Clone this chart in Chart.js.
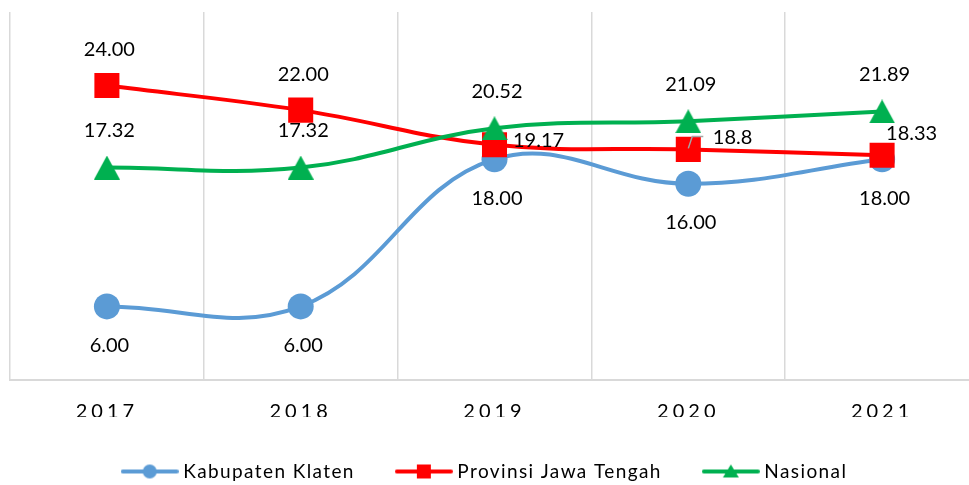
<!DOCTYPE html>
<html>
<head>
<meta charset="utf-8">
<script src="https://cdn.jsdelivr.net/npm/chart.js@4.4.1/dist/chart.umd.min.js"></script>
<style>
  html, body { margin: 0; padding: 0; background: #ffffff; overflow: hidden; }
  #wrap { width: 980px; height: 485px; position: relative; }
</style>
</head>
<body>
<div id="wrap"><canvas id="chart"></canvas></div>
<script>
// Categories and series values
const years = ['2017', '2018', '2019', '2020', '2021'];
const klaten = [6, 6, 18, 16, 18];
const jawaTengah = [24, 22, 19.17, 18.8, 18.33];
const nasional = [17.32, 17.32, 20.52, 21.09, 21.89];

// Number of decimals for each value label (null = plain number)
const klatenDecimals = [2, 2, 2, 2, 2];
const jawaTengahDecimals = [2, 2, null, null, null];
const nasionalDecimals = [2, 2, 2, 2, 2];

const BLUE = '#5B9BD5';
const RED = '#FF0000';
const GREEN = '#00B050';
const FONT = 'Lato';
const LEGEND_SPACING = '1.4px';
const TICK_SPACING = '4px';

// Triangle marker, centred on its bounding box
function triangleMarker(w, h, color) {
  const c = document.createElement('canvas');
  c.width = w; c.height = h;
  const g = c.getContext('2d');
  g.fillStyle = color;
  g.beginPath();
  g.moveTo(0, h); g.lineTo(w / 2, 0); g.lineTo(w, h); g.closePath();
  g.fill();
  return c;
}

// Legend icon: a short line with the series marker in the middle
function legendIcon(color, shape) {
  const w = 58, h = 18;
  const c = document.createElement('canvas');
  c.width = w; c.height = h;
  const g = c.getContext('2d');
  g.strokeStyle = color;
  g.fillStyle = color;
  g.lineWidth = 4;
  g.lineCap = 'round';
  g.beginPath(); g.moveTo(2, h / 2); g.lineTo(w - 2, h / 2); g.stroke();
  const cx = w / 2, cy = h / 2;
  g.beginPath();
  if (shape === 'circle') {
    g.arc(cx, cy, 7, 0, Math.PI * 2);
  } else if (shape === 'rect') {
    g.rect(cx - 7, cy - 7, 14, 14);
  } else {
    g.moveTo(cx - 8, cy + 6); g.lineTo(cx, cy - 7); g.lineTo(cx + 8, cy + 6); g.closePath();
  }
  g.fill();
  return c;
}

const legendIcons = [legendIcon(BLUE, 'circle'), legendIcon(RED, 'rect'), legendIcon(GREEN, 'triangle')];

function formatValue(v, d) {
  return d === null ? String(v) : v.toFixed(d);
}

// Label placement per point: dx/dy from the point, text alignment, optional leader line
const klatenPlace = years.map(() => ({ dx: 2.5, dy: 39, align: 'center' }));
const nasionalPlace = years.map(() => ({ dx: 2.5, dy: -37, align: 'center' }));
const jawaTengahPlace = [
  { dx: 2.5, dy: -36, align: 'center' },
  { dx: 2.5, dy: -36, align: 'center' },
  { dx: 18.5, dy: -4.5, align: 'left' },
  { dx: 24.5, dy: -12, align: 'left', leader: [[0, -1], [4, -13], [15, -13]] },
  { dx: 4, dy: -22, align: 'left' }
];

const valueLabels = {
  id: 'valueLabels',
  beforeLayout(chart) {
    // legend text is measured with the same spacing it is drawn with
    chart.ctx.letterSpacing = LEGEND_SPACING;
  },
  afterLayout(chart) {
    chart.ctx.letterSpacing = '0px';
    if (chart.legend) {
      chart.legend.left -= 8;
      chart.legend.right -= 8;
    }
  },
  beforeDraw(chart) {
    chart.ctx.letterSpacing = LEGEND_SPACING;
  },
  beforeDatasetsDraw(chart) {
    chart.ctx.letterSpacing = '0px';
  },
  afterDatasetsDraw(chart) {
    const ctx = chart.ctx;
    ctx.save();
    ctx.font = '20px ' + FONT;
    ctx.fillStyle = '#000000';
    ctx.textBaseline = 'middle';
    chart.data.datasets.forEach((ds, di) => {
      const meta = chart.getDatasetMeta(di);
      meta.data.forEach((pt, i) => {
        const p = ds.place[i];
        if (p.leader) {
          ctx.save();
          ctx.strokeStyle = '#A6A6A6';
          ctx.lineWidth = 1.5;
          ctx.beginPath();
          p.leader.forEach(([lx, ly], k) => {
            if (k === 0) ctx.moveTo(pt.x + lx, pt.y + ly); else ctx.lineTo(pt.x + lx, pt.y + ly);
          });
          ctx.stroke();
          ctx.restore();
        }
        ctx.textAlign = p.align;
        ctx.fillText(formatValue(ds.data[i], ds.decimals[i]), pt.x + p.dx, pt.y + p.dy);
      });
    });
    ctx.restore();
    // spaced-out year labels on the category axis (drawn after the datasets)
    ctx.letterSpacing = TICK_SPACING;
  },
  afterDraw(chart) {
    chart.ctx.letterSpacing = '0px';
  }
};

new Chart(document.getElementById('chart'), {
  type: 'line',
  data: {
    labels: years,
    datasets: [
      {
        label: 'Kabupaten Klaten',
        data: klaten,
        decimals: klatenDecimals,
        place: klatenPlace,
        borderColor: BLUE,
        backgroundColor: BLUE,
        borderWidth: 4,
        tension: 0.4,
        pointStyle: 'circle',
        pointRadius: 13,
        pointBorderWidth: 0,
        pointBackgroundColor: BLUE,
        order: 3
      },
      {
        label: 'Provinsi Jawa Tengah',
        data: jawaTengah,
        decimals: jawaTengahDecimals,
        place: jawaTengahPlace,
        borderColor: RED,
        backgroundColor: RED,
        borderWidth: 4,
        tension: 0.4,
        pointStyle: 'rect',
        pointRadius: 17.7,
        pointBorderWidth: 0,
        pointBackgroundColor: RED,
        order: 2
      },
      {
        label: 'Nasional',
        data: nasional,
        decimals: nasionalDecimals,
        place: nasionalPlace,
        borderColor: GREEN,
        backgroundColor: GREEN,
        borderWidth: 4,
        tension: 0.4,
        pointStyle: triangleMarker(26, 24, GREEN),
        pointRadius: 13,
        pointBorderWidth: 0,
        pointBackgroundColor: GREEN,
        order: 1
      }
    ]
  },
  options: {
    responsive: true,
    maintainAspectRatio: false,
    animation: false,
    events: [],
    layout: { autoPadding: false, padding: { top: 12, left: 10, right: 1, bottom: 0 } },
    scales: {
      x: {
        offset: true,
        grid: { offset: true, color: '#D9D9D9', lineWidth: 1.5, drawTicks: false },
        border: { display: true, color: '#D9D9D9', width: 2 },
        ticks: { z: 1, padding: 20, color: '#000000', font: { family: FONT, size: 20 } },
        afterFit(scale) { scale.height = 37; }
      },
      y: {
        display: false,
        min: 0,
        max: 30
      }
    },
    plugins: {
      tooltip: { enabled: false },
      legend: {
        position: 'bottom',
        maxHeight: 68,
        labels: {
          usePointStyle: true,
          pointStyleWidth: 48,
          padding: 45,
          color: '#000000',
          font: { family: FONT, size: 19 },
          generateLabels(chart) {
            return chart.data.datasets.map((ds, i) => ({
              text: ds.label,
              pointStyle: legendIcons[i],
              fillStyle: ds.borderColor,
              strokeStyle: ds.borderColor,
              lineWidth: 0,
              hidden: false,
              datasetIndex: i
            }));
          }
        }
      }
    }
  },
  plugins: [valueLabels]
});
</script>
</body>
</html>
